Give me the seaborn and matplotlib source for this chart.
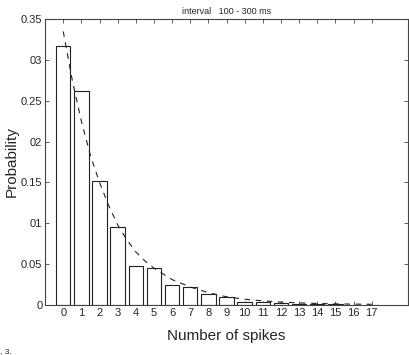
import pandas as pd
import seaborn as sns
from matplotlib import pyplot as plt

spikes = list(range(18))
probability = [0.317, 0.262, 0.152, 0.095, 0.048, 0.045, 0.024, 0.0225, 0.0130,
               0.0095, 0.0040, 0.0030, 0.0020, 0.0012, 0.0009, 0.0007, 0.0005, 0.0004]

fit_x = [0, 0.5, 1, 1.5, 2, 2.5, 3, 3.5, 4, 4.5, 5, 6, 7, 8, 9, 10, 11, 12, 13, 14, 15, 16, 17]
fit_y = [0.335, 0.275, 0.225, 0.183, 0.150, 0.122, 0.098, 0.080, 0.065, 0.054, 0.045,
         0.031, 0.022, 0.015, 0.010, 0.007, 0.005, 0.0035, 0.0025, 0.0018, 0.0013,
         0.0010, 0.0008]

ytick_vals = [0, 0.05, 0.1, 0.15, 0.2, 0.25, 0.3, 0.35]
ytick_labels = ["0", "0.05", "01", "0.15", "02", "0.25", "03", "0.35"]

bars = pd.DataFrame({"spikes": spikes, "probability": probability})
fit = pd.DataFrame({"x": fit_x, "y": fit_y})

sns.set_style("ticks")
plt.rcParams["font.family"] = ["Liberation Sans", "DejaVu Sans"]

fig = plt.figure(figsize=(4.1, 3.55), dpi=100)
ax = fig.add_axes([0.11, 0.141, 0.885, 0.805])

sns.barplot(data=bars, x="spikes", y="probability", width=0.8,
            facecolor="white", edgecolor="#222222", linewidth=0.8, ax=ax)
sns.lineplot(data=fit, x="x", y="y", color="#222222", linewidth=0.8,
             linestyle=(0, (5, 5)), ax=ax)

ax.set_xlim(-1, 19)
ax.set_ylim(0, 0.35)
ax.set_xticks(spikes)
ax.set_xticklabels([str(s) for s in spikes], fontsize=8)
ax.set_yticks(ytick_vals)
ax.set_yticklabels(ytick_labels, fontsize=8)
ax.tick_params(direction="in", length=3, width=0.6, top=True, right=True,
               color="#444444", pad=2)
for s in ax.spines.values():
    s.set_visible(True)
    s.set_linewidth(0.8)
    s.set_color("#444444")

ax.set_xlabel("Number of spikes", fontsize=11, labelpad=8)
ax.set_ylabel("Probability", fontsize=11)
ax.yaxis.set_label_coords(-0.072, 0.5)
ax.set_title("interval   100 - 300 ms", fontsize=6.5, pad=4)
fig.text(0.0, 0.005, ", 3.", fontsize=6)

plt.savefig("out.png", dpi=100)
